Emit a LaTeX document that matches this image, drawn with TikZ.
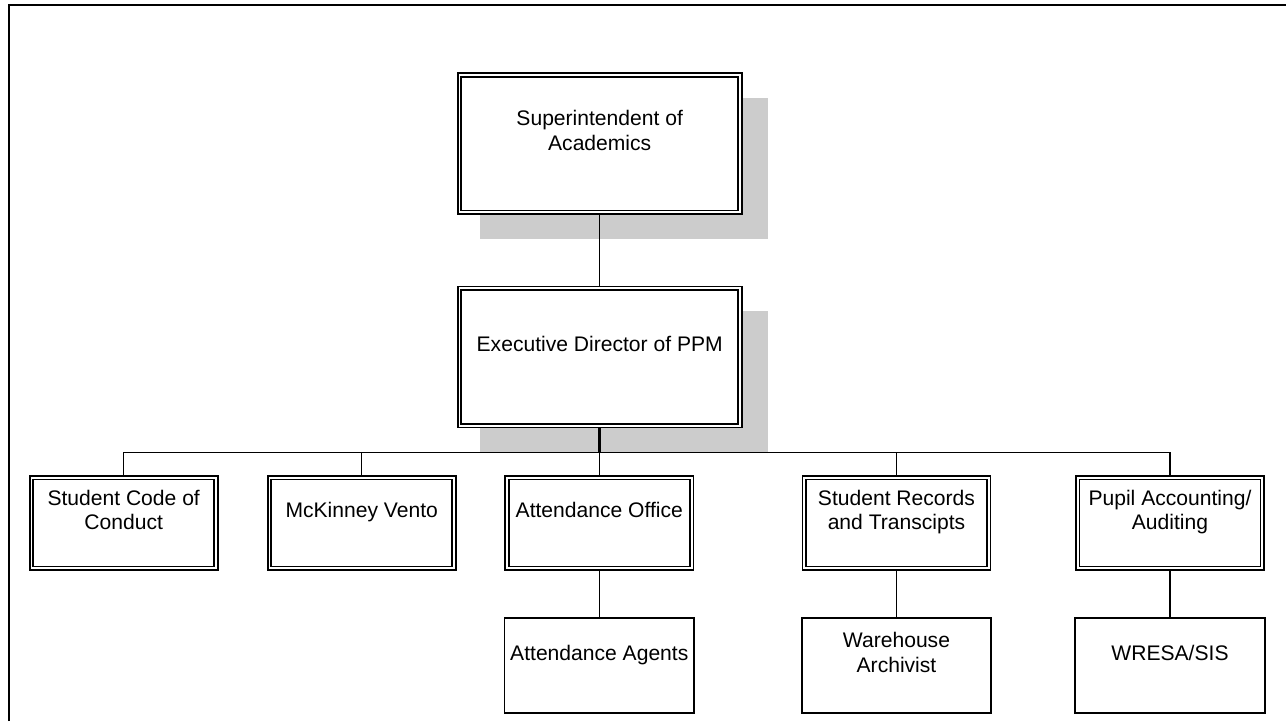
\documentclass[tikz,border=0pt]{standalone}
\usepackage{fontspec}
\setmainfont{Liberation Sans}
\usepackage{tikz}
\usetikzlibrary{shadows}
\definecolor{ombra}{HTML}{CCCCCC}
\newcommand{\voce}[1]{\begin{tabular}{@{}c@{}}#1\\[0.42cm]\end{tabular}}

\begin{document}
\begin{tikzpicture}[x=0.02cm, y=-0.02cm,
        ruolo/.style={draw, double, line width=0.95pt, double distance=1.1pt,
                fill=white, outer sep=1.5pt, inner sep=0pt,
                font=\fontsize{12}{14.2}\selectfont},
        capo/.style={ruolo, minimum width=5.61cm, minimum height=2.75cm,
                general shadow={fill=ombra, shadow scale=1.025,
                    shadow xshift=0.47cm, shadow yshift=-0.48cm}},
        ufficio/.style={ruolo, minimum width=3.69cm, minimum height=1.81cm},
        staff/.style={draw, line width=0.9pt, inner sep=0pt,
                minimum width=3.79cm, minimum height=1.89cm,
                font=\fontsize{12}{14.2}\selectfont},
        linea/.style={line width=0.85pt}
    ]
    \useasboundingbox (0,0) rectangle (1286,721);
    % cornice aperta in alto e a sinistra
    \draw[line width=1.2pt] (8.7,721) |- (1286,5);

    \node[capo] (sup) at (599.7,143.6) {\voce{Superintendent of\\Academics}};
    \node[capo] (exe) at (599.7,356.9) {\voce{Executive Director of PPM}};

    \node[ufficio] (code) at (123.7,523) {\voce{Student Code of\\Conduct}};
    \node[ufficio] (mck)  at (361.7,523) {\voce{McKinney Vento}};
    \node[ufficio] (att)  at (599.3,523) {\voce{Attendance Office}};
    \node[ufficio] (rec)  at (896.5,523) {\voce{Student Records\\and Transcipts}};
    \node[ufficio] (pup)  at (1170,523)  {\voce{Pupil Accounting/\\Auditing}};

    \node[staff] (agt) at (599.3,665.5) {\voce{Attendance Agents}};
    \node[staff] (arc) at (896.5,665.5) {\voce{Warehouse\\Archivist}};
    \node[staff] (sis) at (1170,665.5)  {\voce{WRESA/SIS}};

    \coordinate (bus) at (599.7,452.7);

    \draw[linea] (sup) -- (exe);
    \draw[line width=1.5pt] (exe) -- (bus);
    \foreach \n in {code,mck,att,rec,pup}
        \draw[linea] (\n.north) |- (bus);
    \draw[linea] (att) -- (agt);
    \draw[linea] (rec) -- (arc);
    \draw[linea] (pup) -- (sis);
\end{tikzpicture}
\end{document}
